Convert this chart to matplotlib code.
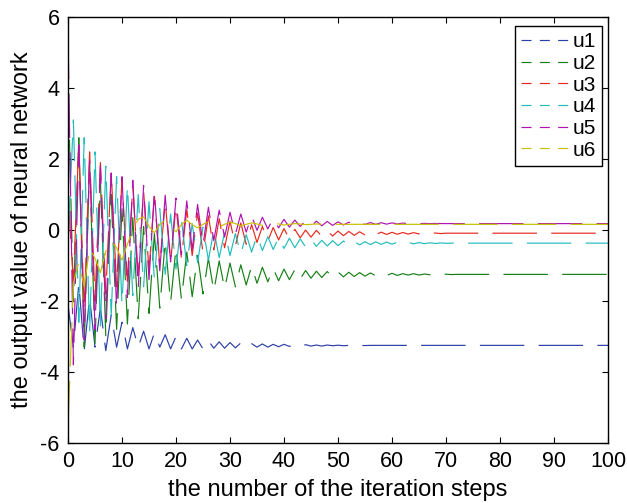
from matplotlib import pyplot as plt
from matplotlib.lines import Line2D
import numpy as np

plt.rcParams['font.family'] = ['Liberation Sans', 'DejaVu Sans']
plt.rcParams['axes.unicode_minus'] = False
plt.rcParams['lines.scale_dashes'] = False

steps = np.arange(101)
labels = ["u1", "u2", "u3", "u4", "u5", "u6"]
colors = ['#2b3fa8', '#168016', '#e8281e', '#22bcbc', '#b012b0', '#c8c000']

u1 = [-2.1, -3.3, -1.5, -3.4, -1.9, -3.3, -2.2, -3.4, -2.4, -3.3,
      -2.6, -3.35, -2.75, -3.3, -2.85, -3.35, -2.9, -3.3, -2.95, -3.35,
      -3.0, -3.35, -3.05, -3.35, -3.1, -3.35, -3.12, -3.33, -3.15, -3.33,
      -3.17, -3.32, -3.18, -3.31, -3.2, -3.3, -3.21, -3.3, -3.22, -3.29,
      -3.22, -3.28, -3.23, -3.28, -3.23, -3.27, -3.24, -3.27, -3.24, -3.26,
      -3.245, -3.26, -3.25, -3.26, -3.25, -3.255, -3.25, -3.25, -3.25, -3.25,
      -3.25, -3.25, -3.25, -3.25, -3.25, -3.25, -3.25, -3.25, -3.25, -3.25,
      -3.25, -3.25, -3.25, -3.25, -3.25, -3.25, -3.25, -3.25, -3.25, -3.25,
      -3.25, -3.25, -3.25, -3.25, -3.25, -3.25, -3.25, -3.25, -3.25, -3.25,
      -3.25, -3.25, -3.25, -3.25, -3.25, -3.25, -3.25, -3.25, -3.25, -3.25,
      -3.25]

u2 = [4.2, -2.0, 2.6, -3.3, 1.9, -3.2, 1.4, -3.0, 1.0, -2.8,
      0.6, -2.65, 0.35, -2.5, 0.1, -2.35, -0.1, -2.2, -0.3, -2.05,
      -0.5, -1.95, -0.62, -1.88, -0.72, -1.8, -0.8, -1.72, -0.87, -1.65,
      -0.93, -1.6, -0.98, -1.55, -1.02, -1.5, -1.05, -1.46, -1.08, -1.43,
      -1.1, -1.4, -1.12, -1.38, -1.14, -1.36, -1.16, -1.34, -1.17, -1.33,
      -1.18, -1.32, -1.19, -1.31, -1.2, -1.3, -1.21, -1.29, -1.22, -1.28,
      -1.22, -1.28, -1.23, -1.27, -1.23, -1.27, -1.24, -1.26, -1.24, -1.26,
      -1.245, -1.255, -1.25, -1.25, -1.25, -1.25, -1.25, -1.25, -1.25, -1.25,
      -1.25, -1.25, -1.25, -1.25, -1.25, -1.25, -1.25, -1.25, -1.25, -1.25,
      -1.25, -1.25, -1.25, -1.25, -1.25, -1.25, -1.25, -1.25, -1.25, -1.25,
      -1.25]

u3 = [1.0, -1.5, 2.5, -2.3, 2.2, -2.0, 1.9, -1.8, 1.65, -1.6,
      1.45, -1.45, 1.25, -1.3, 1.1, -1.15, 0.95, -1.0, 0.8, -0.9,
      0.68, -0.8, 0.58, -0.72, 0.48, -0.64, 0.4, -0.56, 0.32, -0.5,
      0.25, -0.44, 0.2, -0.4, 0.15, -0.35, 0.1, -0.31, 0.07, -0.28,
      0.04, -0.25, 0.02, -0.22, 0.0, -0.2, -0.01, -0.18, -0.02, -0.17,
      -0.03, -0.16, -0.04, -0.15, -0.05, -0.14, -0.055, -0.13, -0.06, -0.125,
      -0.065, -0.12, -0.07, -0.115, -0.075, -0.11, -0.08, -0.105, -0.085, -0.1,
      -0.09, -0.09, -0.09, -0.09, -0.09, -0.09, -0.09, -0.09, -0.09, -0.09,
      -0.09, -0.09, -0.09, -0.09, -0.09, -0.09, -0.09, -0.09, -0.09, -0.09,
      -0.09, -0.09, -0.09, -0.09, -0.09, -0.09, -0.09, -0.09, -0.09, -0.09,
      -0.09]

u4 = [-0.3, 3.1, -2.6, 2.6, -2.9, 2.2, -2.7, 1.8, -2.4, 1.5,
      -2.1, 1.25, -1.85, 1.0, -1.6, 0.8, -1.4, 0.6, -1.25, 0.45,
      -1.1, 0.3, -1.0, 0.18, -0.92, 0.08, -0.85, 0.0, -0.78, -0.06,
      -0.72, -0.1, -0.67, -0.13, -0.62, -0.16, -0.58, -0.19, -0.55, -0.21,
      -0.52, -0.23, -0.5, -0.25, -0.48, -0.27, -0.46, -0.29, -0.45, -0.3,
      -0.44, -0.31, -0.43, -0.32, -0.42, -0.33, -0.41, -0.335, -0.405, -0.34,
      -0.4, -0.345, -0.395, -0.35, -0.39, -0.355, -0.385, -0.36, -0.38, -0.365,
      -0.375, -0.37, -0.37, -0.37, -0.37, -0.37, -0.37, -0.37, -0.37, -0.37,
      -0.37, -0.37, -0.37, -0.37, -0.37, -0.37, -0.37, -0.37, -0.37, -0.37,
      -0.37, -0.37, -0.37, -0.37, -0.37, -0.37, -0.37, -0.37, -0.37, -0.37,
      -0.37]

u5 = [5.5, -3.8, 2.4, -3.1, 2.0, -2.8, 1.8, -2.5, 1.6, -2.2,
      1.5, -1.9, 1.4, -1.65, 1.25, -1.4, 1.1, -1.15, 0.98, -0.9,
      0.9, -0.7, 0.82, -0.55, 0.72, -0.42, 0.64, -0.3, 0.56, -0.2,
      0.5, -0.12, 0.45, -0.06, 0.4, -0.01, 0.36, 0.03, 0.33, 0.06,
      0.3, 0.08, 0.28, 0.1, 0.26, 0.11, 0.25, 0.12, 0.24, 0.13,
      0.23, 0.14, 0.22, 0.15, 0.215, 0.155, 0.21, 0.16, 0.205, 0.165,
      0.2, 0.17, 0.195, 0.175, 0.19, 0.178, 0.186, 0.18, 0.184, 0.182,
      0.18, 0.18, 0.18, 0.18, 0.18, 0.18, 0.18, 0.18, 0.18, 0.18,
      0.18, 0.18, 0.18, 0.18, 0.18, 0.18, 0.18, 0.18, 0.18, 0.18,
      0.18, 0.18, 0.18, 0.18, 0.18, 0.18, 0.18, 0.18, 0.18, 0.18,
      0.18]

u6 = [-5.5, -1.5, -0.9, -1.6, -0.5, -0.8, -1.2, -0.6, -0.3, -0.5,
      -0.85, -0.4, 0.0, 0.3, 0.37, 0.1, -0.08, 0.15, 0.28, 0.1,
      -0.05, 0.15, 0.28, 0.15, 0.06, 0.16, 0.24, 0.17, 0.1, 0.16,
      0.22, 0.18, 0.12, 0.16, 0.2, 0.17, 0.13, 0.16, 0.19, 0.17,
      0.14, 0.16, 0.18, 0.17, 0.15, 0.16, 0.17, 0.165, 0.155, 0.16,
      0.16, 0.16, 0.16, 0.16, 0.16, 0.16, 0.16, 0.16, 0.16, 0.16,
      0.16, 0.16, 0.16, 0.16, 0.16, 0.16, 0.16, 0.16, 0.16, 0.16,
      0.16, 0.16, 0.16, 0.16, 0.16, 0.16, 0.16, 0.16, 0.16, 0.16,
      0.16, 0.16, 0.16, 0.16, 0.16, 0.16, 0.16, 0.16, 0.16, 0.16,
      0.16, 0.16, 0.16, 0.16, 0.16, 0.16, 0.16, 0.16, 0.16, 0.16,
      0.16]

series = [u1, u2, u3, u4, u5, u6]

fig = plt.figure(figsize=(6.27, 5.03), dpi=100)
ax = fig.add_axes([68 / 627, 60 / 503, 540 / 627, 426 / 503])

for vals, c in zip(series, colors):
    ax.plot(steps, vals, color=c, linewidth=0.85, dashes=(32, 10.3))

ax.set_xlim(0, 100)
ax.set_ylim(-6, 6)
ax.set_xticks(np.arange(0, 101, 10))
ax.set_yticks(np.arange(-6, 7, 2))
ax.tick_params(direction='in', length=4, width=0.8, top=True, right=True,
               labelsize=15.5, pad=6)
for s in ax.spines.values():
    s.set_linewidth(1.0)

ax.set_xlabel("the number of the iteration steps", fontsize=17, labelpad=5)
ax.set_ylabel("the output value of neural network", fontsize=17, labelpad=5)

handles = [Line2D([], [], color=c, linewidth=0.85, dashes=(7.2, 6)) for c in colors]
leg = ax.legend(handles, labels, loc='upper right', bbox_to_anchor=(0.989, 0.979),
                borderaxespad=0, fontsize=15, handlelength=2.3, handletextpad=0.15,
                labelspacing=0.13, borderpad=0.3, fancybox=False, framealpha=1,
                edgecolor='black')
leg.get_frame().set_linewidth(1.0)

plt.savefig("out.png", dpi=100)
